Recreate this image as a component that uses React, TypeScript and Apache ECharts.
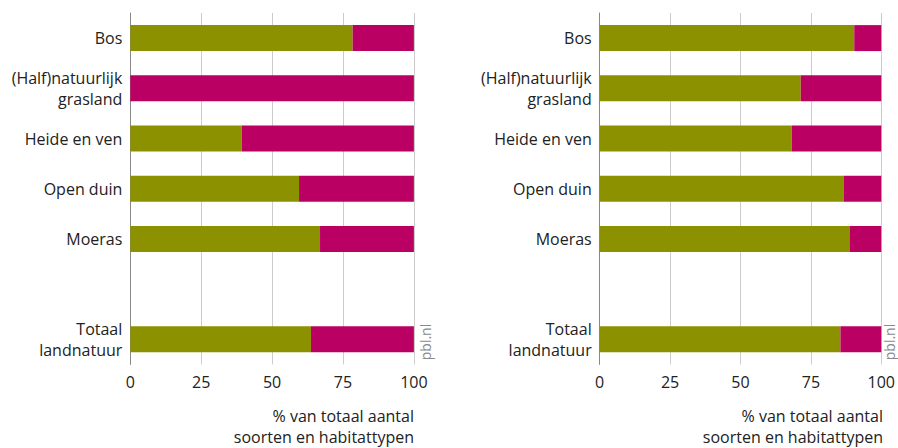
import React, { useEffect, useRef } from "react";
import * as echarts from "echarts";

const categories = [
  "Bos",
  "(Half)natuurlijk\ngrasland",
  "Heide en ven",
  "Open duin",
  "Moeras",
  "",
  "Totaal\nlandnatuur",
];

const leftGreen = [78.4, 0, 39.3, 59.5, 66.9, null, 63.7];
const rightGreen = [90.4, 71.4, 68.2, 86.6, 88.7, null, 85.5];

const rest = (arr: (number | null)[]) => arr.map((v) => (v === null ? null : +(100 - v).toFixed(1)));
const leftMagenta = rest(leftGreen);
const rightMagenta = rest(rightGreen);

const xTicks = [0, 25, 50, 75, 100];
const axisTitle = ["% van totaal aantal", "soorten en habitattypen"];

const GREEN = "#8c9100";
const MAGENTA = "#ba0062";
const FONT = "Open Sans";

export default function App() {
  const ref = useRef<HTMLDivElement>(null);
  useEffect(() => {
    document.body.style.margin = "0";
    const chart = echarts.init(ref.current!, null, { renderer: "svg" });
    const grids = [
      { left: 130.3, width: 283.6, top: 13, height: 351.4 },
      { left: 599.7, width: 283.3, top: 13, height: 351.4 },
    ];
    const xAxisBase = (gi: number) => ({
      type: "value" as const,
      gridIndex: gi,
      min: 0,
      max: 100,
      interval: 25,
      axisLine: { show: false },
      axisTick: { show: false },
      splitLine: { show: true, lineStyle: { color: "#cccccc", width: 1 } },
      axisLabel: {
        margin: 10,
        fontSize: 16,
        color: "#222",
        fontFamily: FONT,
        formatter: (v: number) => (xTicks.includes(v) ? String(v) : ""),
      },
    });
    const yAxisBase = (gi: number) => ({
      type: "category" as const,
      gridIndex: gi,
      data: categories,
      inverse: true,
      axisLine: { show: true, lineStyle: { color: "#888", width: 1 } },
      axisTick: { show: false },
      axisLabel: {
        margin: 8,
        fontSize: 16,
        lineHeight: 21,
        color: "#222",
        fontFamily: FONT,
        align: "right" as const,
      },
    });
    const bar = (name: string, gi: number, data: (number | null)[], color: string) => ({
      type: "bar" as const,
      name,
      xAxisIndex: gi,
      yAxisIndex: gi,
      stack: "s" + gi,
      data,
      barWidth: 26,
      itemStyle: { color },
    });
    const titleText = (xRight: number) =>
      axisTitle.map((t, i) => ({
        type: "text" as const,
        x: xRight,
        y: 416 + i * 21,
        style: {
          text: t,
          textAlign: "right" as const,
          textVerticalAlign: "middle" as const,
          fontSize: 16,
          fontFamily: FONT,
          fill: "#222",
        },
      }));
    const pbl = (x: number) => ({
      type: "text" as const,
      x,
      y: 342,
      rotation: Math.PI / 2,
      style: {
        text: "pbl.nl",
        textAlign: "center" as const,
        textVerticalAlign: "middle" as const,
        fontSize: 14,
        fontFamily: FONT,
        fill: "#8a8a8a",
      },
    });
    chart.setOption({
      animation: false,
      grid: grids,
      xAxis: [xAxisBase(0), xAxisBase(1)],
      yAxis: [yAxisBase(0), yAxisBase(1)],
      series: [
        bar("a", 0, leftGreen, GREEN),
        bar("b", 0, leftMagenta, MAGENTA),
        bar("a", 1, rightGreen, GREEN),
        bar("b", 1, rightMagenta, MAGENTA),
      ],
      graphic: [...titleText(414), ...titleText(883), pbl(425), pbl(889)],
    });
    return () => chart.dispose();
  }, []);
  return <div ref={ref} style={{ width: 898, height: 448 }} />;
}
